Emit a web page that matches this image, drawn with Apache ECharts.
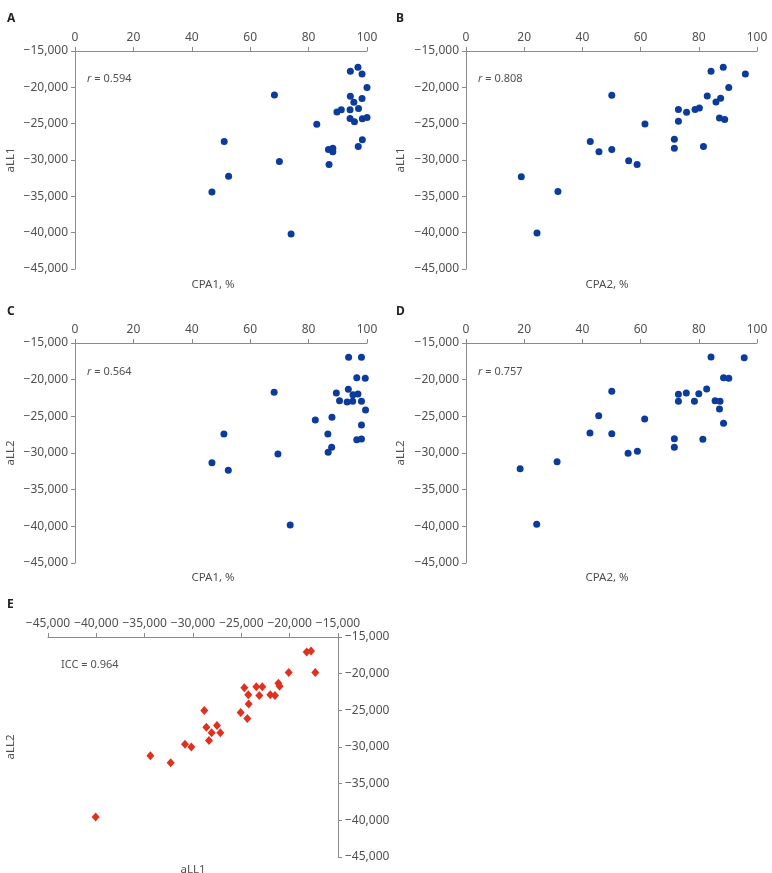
<!DOCTYPE html>
<html>
<head>
<meta charset="utf-8">
<script src="https://cdn.jsdelivr.net/npm/echarts@6/dist/echarts.min.js"></script>
<style>
  html, body { margin: 0; padding: 0; background: #fff; }
  #main { width: 772px; height: 873px; }
</style>
</head>
<body>
<div id="main"></div>
<script>
// panel A: CPA1 (%) vs aLL1
const cpa1_all1 = [
  [96.9, -17250], [94.3, -17790], [98.3, -18160], [100, -20040], [68.3, -21050],
  [94.3, -21230], [98.3, -21550], [95.5, -22050], [89.7, -23380], [91.2, -23100],
  [94.2, -23100], [97.1, -22920], [94.2, -24300], [95.7, -24750], [98.4, -24340],
  [100, -24160], [82.8, -25080], [51.1, -27460], [98.4, -27230], [97.0, -28140],
  [86.8, -28560], [88.3, -28370], [88.3, -28880], [70.0, -30210], [87.0, -30620],
  [52.6, -32220], [46.9, -34420], [74.0, -40190]
];
// panel B: CPA2 (%) vs aLL1
const cpa2_all1 = [
  [88.4, -17240], [84.2, -17790], [96.0, -18160], [90.3, -20040], [50.1, -21090],
  [82.9, -21180], [87.5, -21500], [85.9, -22010], [73.0, -23060], [75.8, -23430],
  [78.7, -23060], [80.2, -22830], [73.0, -24660], [87.1, -24210], [88.9, -24430],
  [61.5, -25030], [42.7, -27460], [71.6, -27140], [71.6, -28370], [81.6, -28140],
  [45.7, -28880], [50.1, -28560], [55.9, -30110], [58.8, -30620], [19.0, -32310],
  [31.6, -34330], [24.4, -40050]
];
// panel C: CPA1 (%) vs aLL2
const cpa1_all2 = [
  [93.7, -16950], [98.1, -16950], [96.5, -19730], [99.4, -19820], [68.2, -21730],
  [89.5, -21820], [93.6, -21320], [95.2, -22050], [96.9, -21950], [90.6, -22860],
  [93.2, -23050], [95.1, -22950], [98.1, -22950], [99.5, -24140], [82.3, -25500],
  [88.0, -25140], [51.0, -27410], [98.1, -26180], [86.6, -27410], [96.5, -28180],
  [98.1, -28090], [87.9, -29230], [86.7, -29910], [69.5, -30140], [46.9, -31320],
  [52.5, -32360], [73.7, -39820]
];
// panel D: CPA2 (%) vs aLL2
const cpa2_all2 = [
  [84.2, -16910], [95.6, -17000], [88.5, -19730], [90.3, -19820], [50.1, -21590],
  [82.7, -21270], [73.0, -22000], [75.7, -21820], [80.0, -21910], [73.0, -22950],
  [78.5, -22950], [85.6, -22860], [87.3, -22950], [87.1, -24000], [88.5, -25950],
  [45.6, -24910], [61.4, -25360], [42.6, -27270], [50.1, -27360], [71.6, -28050],
  [81.4, -28140], [71.6, -29230], [55.7, -30050], [58.9, -29770], [31.3, -31180],
  [18.6, -32140], [24.3, -39730]
];
// panel E: aLL1 vs aLL2
const all1_all2 = [
  [-18240, -17050], [-17790, -16910], [-17350, -19830], [-20100, -19830], [-24690, -21930],
  [-23450, -21790], [-22830, -21790], [-21170, -21290], [-21040, -21700], [-24280, -22890],
  [-23140, -22980], [-22000, -22890], [-21520, -22980], [-24240, -24120], [-28830, -25030],
  [-25070, -25300], [-24380, -26120], [-28620, -27310], [-27520, -27080], [-28070, -28040],
  [-27170, -28040], [-28350, -29130], [-30830, -29630], [-30170, -30000], [-34410, -31180],
  [-32310, -32140], [-40070, -39530]
];

const panelLabels = ['A', 'B', 'C', 'D', 'E'];
const statTexts = ['0.594', '0.808', '0.564', '0.757'];
const xNames = ['CPA1, %', 'CPA2, %', 'CPA1, %', 'CPA2, %', 'aLL1'];
const yNames = ['aLL1', 'aLL1', 'aLL2', 'aLL2', 'aLL2'];

const axisGray = '#8a8a8a';
const labelGray = '#505050';
const fontFam = 'Noto Sans, Liberation Sans, sans-serif';

const fmt = (v) => (v < 0 ? '\u2212' : '') + Math.abs(v).toLocaleString('en-US');

const grids = [
  { left: 75, top: 51, width: 292, height: 218 },
  { left: 466, top: 51, width: 291, height: 218 },
  { left: 75, top: 343, width: 292, height: 220 },
  { left: 466, top: 343, width: 291, height: 220 },
  { left: 48, top: 637, width: 290, height: 220 }
];

function axisBase(pos) {
  return {
    position: pos,
    axisLine: { show: true, onZero: false, lineStyle: { color: axisGray, width: 1 } },
    axisTick: { show: true, inside: false, length: 4, lineStyle: { color: axisGray } },
    splitLine: { show: false },
    axisLabel: { color: labelGray, fontSize: 12, fontFamily: fontFam, margin: 7, formatter: fmt }
  };
}

const xAxis = [];
const yAxis = [];
for (let i = 0; i < 4; i++) {
  xAxis.push(Object.assign(axisBase('top'), {
    type: 'value', gridIndex: i, min: 0, max: 100, interval: 20
  }));
  yAxis.push(Object.assign(axisBase('left'), {
    type: 'value', gridIndex: i, min: -45000, max: -15000, interval: 5000
  }));
}
xAxis.push(Object.assign(axisBase('top'), {
  type: 'value', gridIndex: 4, min: -45000, max: -15000, interval: 5000
}));
yAxis.push(Object.assign(axisBase('right'), {
  type: 'value', gridIndex: 4, min: -45000, max: -15000, interval: 5000
}));

const blueDots = [cpa1_all1, cpa2_all1, cpa1_all2, cpa2_all2];
const series = blueDots.map((d, i) => ({
  type: 'scatter',
  xAxisIndex: i,
  yAxisIndex: i,
  symbol: 'circle',
  symbolSize: 7,
  itemStyle: { color: '#0b3b9b', opacity: 1 },
  data: d
}));
series.push({
  type: 'scatter',
  xAxisIndex: 4,
  yAxisIndex: 4,
  symbol: 'diamond',
  symbolSize: [8, 9],
  itemStyle: { color: '#e0301e', opacity: 1 },
  data: all1_all2
});

const graphic = [];
const labelPos = [[7, 13], [396, 13], [7, 306], [396, 306], [7, 599]];
panelLabels.forEach((t, i) => {
  graphic.push({
    type: 'text', left: labelPos[i][0], top: labelPos[i][1],
    style: { text: t, fill: '#222', font: 'bold 12px ' + fontFam }
  });
});
const statPos = [[87, 79], [478, 79], [87, 372], [478, 372]];
statTexts.forEach((t, i) => {
  graphic.push({
    type: 'text', x: statPos[i][0], y: statPos[i][1],
    style: {
      text: '{i|r} = ' + t,
      verticalAlign: 'middle',
      rich: {
        i: { fontStyle: 'italic', fontSize: 11, fill: labelGray, fontFamily: fontFam }
      },
      fontSize: 11, fill: labelGray, fontFamily: fontFam
    }
  });
});
graphic.push({
  type: 'text', x: 61, y: 665,
  style: { text: 'ICC = 0.964', verticalAlign: 'middle', fontSize: 11, fill: labelGray, fontFamily: fontFam }
});
const xNamePos = [[213, 285], [607, 285], [213, 578], [607, 578], [193, 870]];
xNames.forEach((t, i) => {
  graphic.push({
    type: 'text', x: xNamePos[i][0], y: xNamePos[i][1],
    style: { text: t, align: 'center', verticalAlign: 'middle', fontSize: 11.5, fill: labelGray, fontFamily: fontFam }
  });
});
const yNamePos = [[11, 160], [401, 160], [11, 453], [401, 453], [11, 747]];
yNames.forEach((t, i) => {
  graphic.push({
    type: 'text', x: yNamePos[i][0], y: yNamePos[i][1], rotation: Math.PI / 2,
    style: { text: t, align: 'center', verticalAlign: 'middle', fontSize: 11.5, fill: labelGray, fontFamily: fontFam }
  });
});

const chart = echarts.init(document.getElementById('main'), null, { renderer: 'canvas' });
chart.setOption({
  backgroundColor: '#fff',
  animation: false,
  grid: grids,
  xAxis: xAxis,
  yAxis: yAxis,
  series: series,
  graphic: graphic
});
</script>
</body>
</html>
